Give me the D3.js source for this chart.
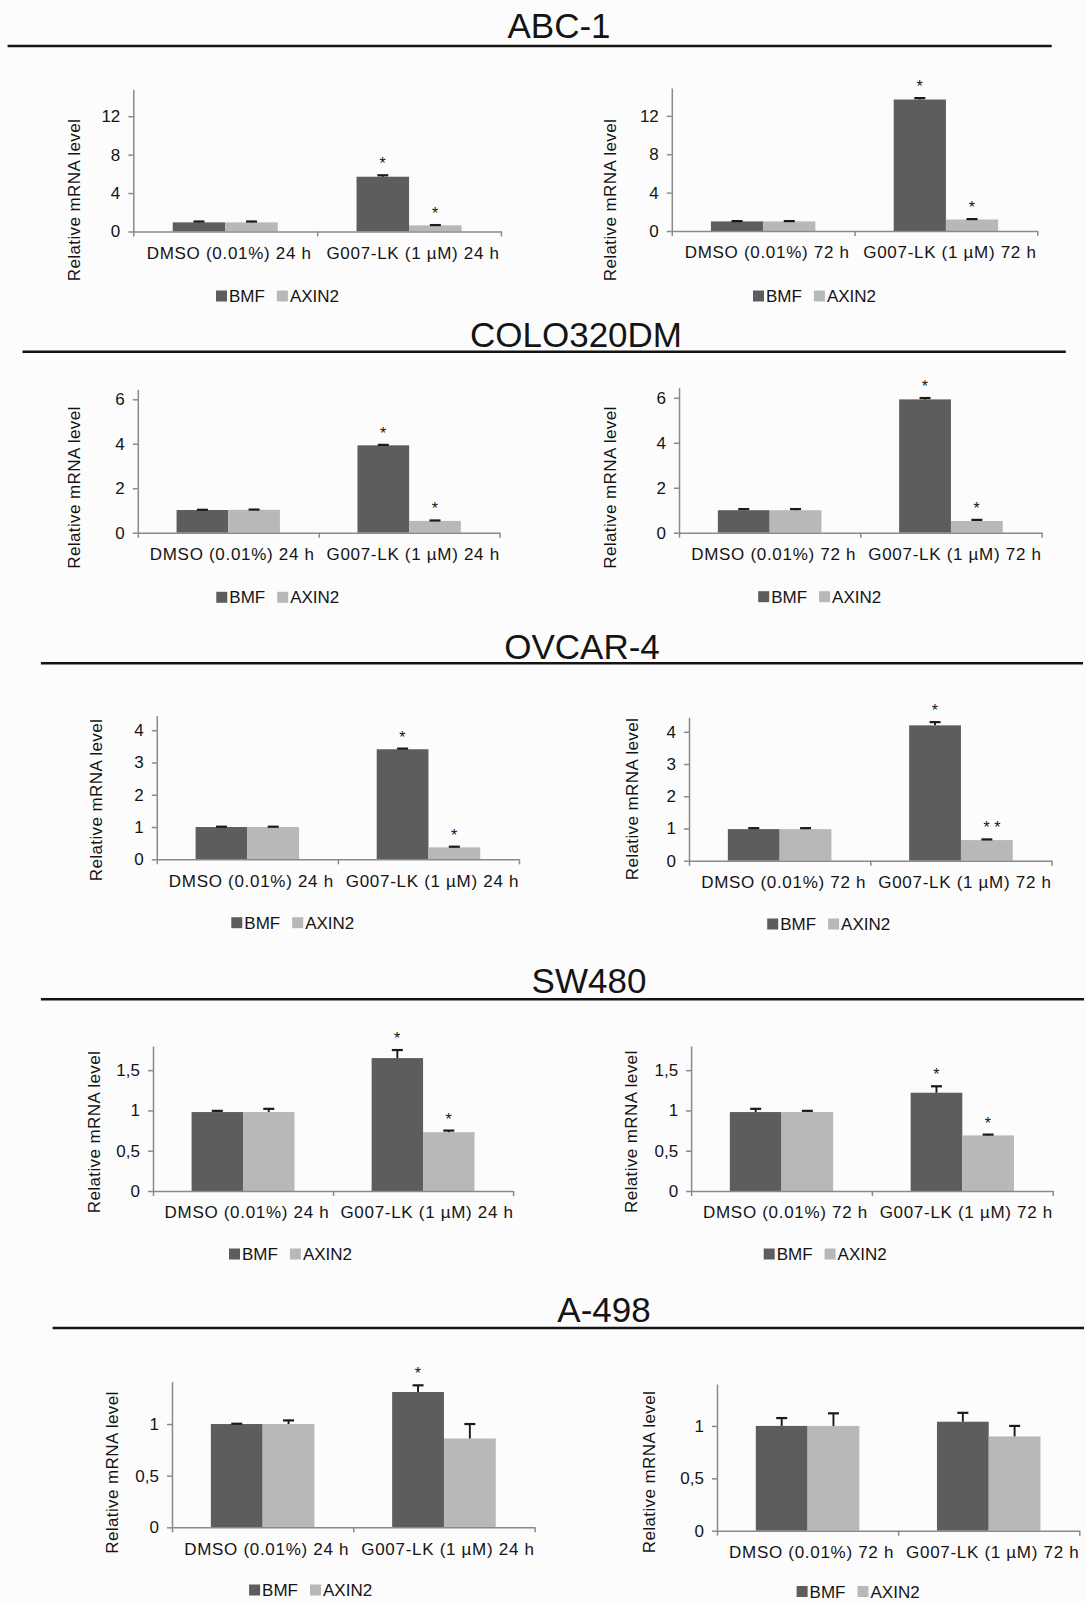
<!DOCTYPE html>
<html>
<head>
<meta charset="utf-8">
<script src="https://cdn.jsdelivr.net/npm/d3@7"></script>
<style>
  html, body { margin: 0; padding: 0; background: #fcfcfc; }
  svg { display: block; }
  text { font-family: "Liberation Sans", Arial, sans-serif; fill: #141414; }
</style>
</head>
<body>
<svg id="fig" width="1086" height="1602"></svg>
<script>
// ---- data -------------------------------------------------------------
const cellLines  = ["ABC-1", "COLO320DM", "OVCAR-4", "SW480", "A-498"];
const timepoints = ["24 h", "72 h"];
const treatments = ["DMSO (0.01%)", "G007-LK (1 µM)"];
const genes      = ["BMF", "AXIN2"];

// one entry per panel (row by row, 24 h then 72 h): [DMSO, G007-LK]
const bmfMean   = [[0.95, 5.7], [1.0, 13.7], [1.02, 3.93], [1.0, 5.93], [1.0, 3.41],
                   [0.98, 4.2], [0.98, 1.65], [0.98, 1.22], [1.0, 1.31], [1.0, 1.04]];
const bmfErr    = [[0.09, 0.15], [0.03, 0.15], [0.01, 0.02], [0.05, 0.06], [0.01, 0.02],
                   [0.03, 0.1], [0.015, 0.1], [0.04, 0.08], [0.003, 0.065], [0.075, 0.085]];
const axin2Mean = [[0.95, 0.64], [1.0, 1.2], [1.03, 0.53], [1.0, 0.52], [1.0, 0.37],
                   [0.98, 0.64], [0.98, 0.73], [0.98, 0.69], [1.0, 0.86], [1.0, 0.9]];
const axin2Err  = [[0.09, 0.03], [0.03, 0.04], [0.01, 0.02], [0.05, 0.05], [0.01, 0.02],
                   [0.03, 0.02], [0.04, 0.02], [0.015, 0.01], [0.035, 0.14], [0.12, 0.1]];
const bmfSig    = [["", "*"], ["", "*"], ["", "*"], ["", "*"], ["", "*"],
                   ["", "*"], ["", "*"], ["", "*"], ["", "*"], ["", ""]];
const axin2Sig  = [["", "*"], ["", "*"], ["", "*"], ["", "*"], ["", "*"],
                   ["", "* *"], ["", "*"], ["", "*"], ["", ""], ["", ""]];
const yMax      = [14.8, 14.9, 6.45, 6.45, 4.45, 4.45, 1.8, 1.8, 1.41, 1.4];
const yTicks    = [[0, 4, 8, 12], [0, 4, 8, 12], [0, 2, 4, 6], [0, 2, 4, 6],
                   [0, 1, 2, 3, 4], [0, 1, 2, 3, 4], [0, 0.5, 1, 1.5], [0, 0.5, 1, 1.5],
                   [0, 0.5, 1], [0, 0.5, 1]];
const yTitle    = "Relative mRNA level";

// ---- layout -----------------------------------------------------------
// section headings: title centre, baseline, rule height and extent
const headers = [
  { cx: 559, base: 38.3,   ry: 46,    x0: 7.6,  x1: 1051.7 },
  { cx: 576, base: 346.7,  ry: 351.7, x0: 22.5, x1: 1065.8 },
  { cx: 582, base: 658.5,  ry: 663.3, x0: 40.9, x1: 1083 },
  { cx: 589, base: 993.3,  ry: 999.3, x0: 40.9, x1: 1084 },
  { cx: 604, base: 1321.7, ry: 1328,  x0: 52.6, x1: 1084 }
];
// plot frames: l/r = x-axis extent, t/b = top of value axis and zero line,
// tx/ty = axis-title centre, lx/ly = legend start and middle
const frames = [
  { l: 133.3, r: 501,    t: 89.3,   b: 231.5,  tx: 74.4,  ty: 200,    lx: 216,   ly: 296 },
  { l: 671.8, r: 1037.3, t: 88,     b: 231,    tx: 610.5, ty: 200,    lx: 753,   ly: 296 },
  { l: 137.8, r: 499.6,  t: 389.3,  b: 532.7,  tx: 74.4,  ty: 487.5,  lx: 216.3, ly: 597.3 },
  { l: 679,   r: 1041.6, t: 387.7,  b: 532.7,  tx: 610.5, ty: 487.5,  lx: 758.2, ly: 596.7 },
  { l: 156.8, r: 519,    t: 715.7,  b: 859.3,  tx: 96.9,  ty: 800,    lx: 231.3, ly: 922.7 },
  { l: 689,   r: 1051.6, t: 717.3,  b: 860.7,  tx: 632.3, ty: 799,    lx: 767.2, ly: 924 },
  { l: 153,   r: 513.1,  t: 1046,   b: 1191,   tx: 94.2,  ty: 1132,   lx: 229,   ly: 1254 },
  { l: 691.1, r: 1052.7, t: 1046,   b: 1191,   tx: 631.2, ty: 1131.7, lx: 763.7, ly: 1254 },
  { l: 172,   r: 534.6,  t: 1381.7, b: 1527.3, tx: 112.5, ty: 1472.5, lx: 249.1, ly: 1590 },
  { l: 717,   r: 1079.3, t: 1384,   b: 1530.7, tx: 649.6, ty: 1472,   lx: 796.6, ly: 1591.5 }
];

const colors = { BMF: "#5e5c5d", AXIN2: "#b9b8b9" };
const axisColor = "#8a8a8a";
const fmt = d => String(d).replace(".", ",");

const svg = d3.select("#fig");
svg.append("rect").attr("width", 1086).attr("height", 1602).attr("fill", "#fcfcfc");

// ---- section headings ------------------------------------------------
cellLines.forEach((name, r) => {
  const h = headers[r];
  svg.append("text")
    .attr("x", h.cx).attr("y", h.base)
    .attr("text-anchor", "middle")
    .attr("font-size", 35)
    .attr("fill", "#111")
    .text(name);
  svg.append("line")
    .attr("x1", h.x0).attr("x2", h.x1)
    .attr("y1", h.ry).attr("y2", h.ry)
    .attr("stroke", "#141414").attr("stroke-width", 2.6);
});

// ---- panels ----------------------------------------------------------
frames.forEach((f, i) => {
  const col = i % 2;
  const g = svg.append("g");

  const x = d3.scaleBand().domain(treatments).range([f.l, f.r]);
  const xg = d3.scaleBand().domain(genes).range([0, x.bandwidth()])
    .paddingInner(0).paddingOuter(0.75);
  const y = d3.scaleLinear().domain([0, yMax[i]]).range([f.b, f.t]);

  const rows = treatments.map((t, k) => ({
    t,
    bars: [
      { gene: "BMF",   v: bmfMean[i][k],   e: bmfErr[i][k],   s: bmfSig[i][k] },
      { gene: "AXIN2", v: axin2Mean[i][k], e: axin2Err[i][k], s: axin2Sig[i][k] }
    ]
  }));

  // bars
  const grp = g.selectAll("g.cat").data(rows).join("g")
    .attr("class", "cat")
    .attr("transform", d => `translate(${x(d.t)},0)`);

  grp.selectAll("rect").data(d => d.bars).join("rect")
    .attr("x", d => xg(d.gene))
    .attr("y", d => y(d.v))
    .attr("width", xg.bandwidth())
    .attr("height", d => y(0) - y(d.v))
    .attr("fill", d => colors[d.gene]);

  // error bars (upper)
  const cx = d => xg(d.gene) + xg.bandwidth() / 2;
  grp.selectAll("line.stem").data(d => d.bars).join("line")
    .attr("class", "stem")
    .attr("x1", cx).attr("x2", cx)
    .attr("y1", d => y(d.v)).attr("y2", d => y(d.v + d.e))
    .attr("stroke", "#1a1a1a").attr("stroke-width", 1.9);
  grp.selectAll("line.cap").data(d => d.bars).join("line")
    .attr("class", "cap")
    .attr("x1", d => cx(d) - 5.5).attr("x2", d => cx(d) + 5.5)
    .attr("y1", d => y(d.v + d.e)).attr("y2", d => y(d.v + d.e))
    .attr("stroke", "#1a1a1a").attr("stroke-width", 2.2);

  // significance marks
  grp.selectAll("text.sig").data(d => d.bars.filter(b => b.s)).join("text")
    .attr("class", "sig")
    .attr("x", d => cx(d) - 3.3)
    .attr("y", d => y(d.v + d.e) - 6)
    .attr("font-size", 16)
    .attr("xml:space", "preserve")
    .text(d => d.s);

  // value axis
  const ya = g.append("g")
    .attr("transform", `translate(${f.l},0)`)
    .call(d3.axisLeft(y).tickValues(yTicks[i]).tickFormat(fmt)
      .tickSize(5).tickSizeOuter(0).tickPadding(8));
  ya.select(".domain").attr("stroke", axisColor).attr("stroke-width", 1.5);
  ya.selectAll(".tick line").attr("stroke", axisColor).attr("stroke-width", 1.5);
  ya.selectAll(".tick text").attr("font-size", 17).attr("fill", "#141414")
    .attr("font-family", "Liberation Sans, Arial, sans-serif");

  // category axis: boundary ticks
  const xb = d3.scaleLinear().domain([0, treatments.length]).range([f.l, f.r]);
  const xa = g.append("g")
    .attr("transform", `translate(0,${f.b})`)
    .call(d3.axisBottom(xb).tickValues(d3.range(treatments.length + 1))
      .tickFormat("").tickSize(5).tickSizeOuter(0));
  xa.select(".domain").attr("stroke", axisColor).attr("stroke-width", 1.5);
  xa.selectAll(".tick line").attr("stroke", axisColor).attr("stroke-width", 1.5);

  // category labels
  const xl = g.append("g")
    .attr("transform", `translate(0,${f.b})`)
    .call(d3.axisBottom(x).tickSize(0).tickPadding(15.4)
      .tickFormat(t => `${t} ${timepoints[col]}`));
  xl.select(".domain").remove();
  xl.selectAll(".tick text")
    .attr("font-size", 17).attr("fill", "#141414")
    .attr("letter-spacing", 0.7).attr("dx", 4)
    .attr("font-family", "Liberation Sans, Arial, sans-serif");

  // axis title
  g.append("text")
    .attr("transform", `translate(${f.tx},${f.ty}) rotate(-90)`)
    .attr("text-anchor", "middle")
    .attr("dominant-baseline", "central")
    .attr("font-size", 17)
    .attr("letter-spacing", 0.4)
    .text(yTitle);

  // legend
  const lg = g.append("g").attr("transform", `translate(${f.lx},${f.ly})`);
  let cursor = 0;
  genes.forEach(gene => {
    lg.append("rect")
      .attr("x", cursor).attr("y", -5.5)
      .attr("width", 11).attr("height", 11)
      .attr("fill", colors[gene]);
    const t = lg.append("text")
      .attr("x", cursor + 13).attr("y", 6)
      .attr("font-size", 17)
      .text(gene);
    cursor += 13 + t.node().getComputedTextLength() + 12;
  });
});
</script>
</body>
</html>
